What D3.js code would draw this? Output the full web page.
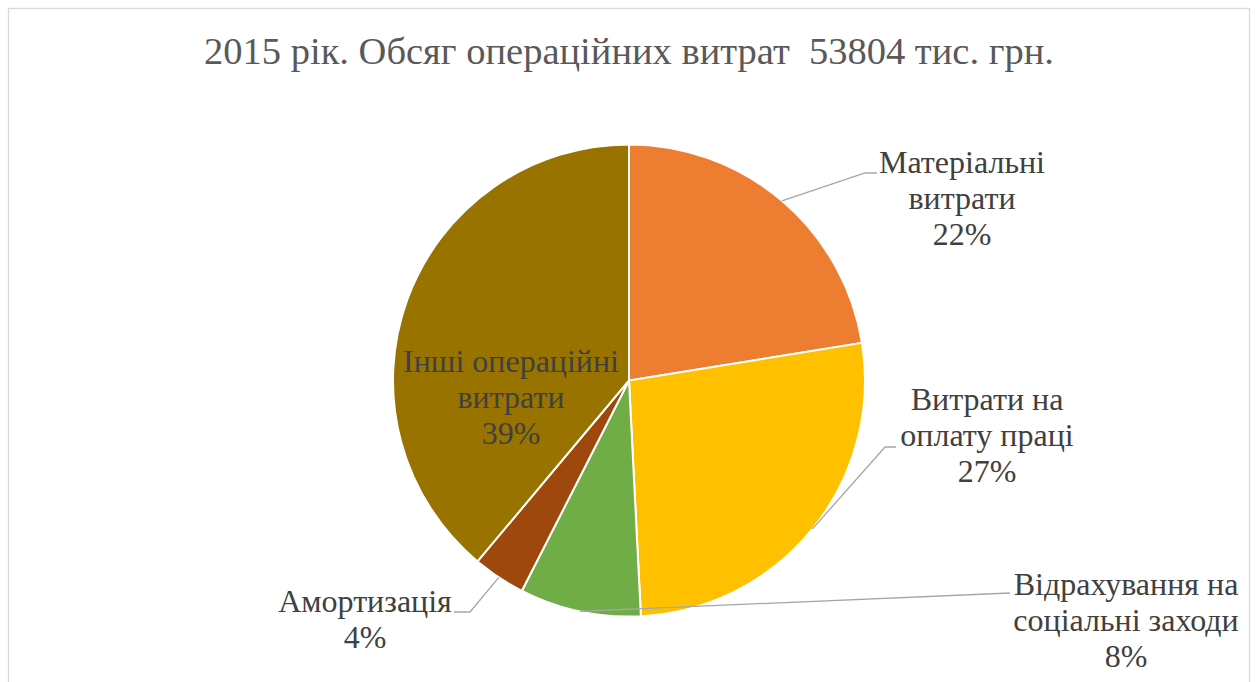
<!DOCTYPE html>
<html>
<head>
<meta charset="utf-8">
<script src="https://cdn.jsdelivr.net/npm/d3@7"></script>
<style>
  body { margin: 0; background: #fff; }
  svg { display: block; }
</style>
</head>
<body>
<svg id="chart" width="1256" height="682"></svg>
<script>
// data (тис. грн.)
const title = "2015 рік. Обсяг операційних витрат  53804 тис. грн.";
const categories = [
  ["Матеріальні", "витрати"],
  ["Витрати на", "оплату праці"],
  ["Відрахування на", "соціальні заходи"],
  ["Амортизація"],
  ["Інші операційні", "витрати"]
];
const values = [12080, 14390, 4466, 1937, 20931];
const colors = ["#ED7D31", "#FFC000", "#70AD47", "#9E480E", "#997300"];

// label layout: text centre, first baseline, leader elbow (null = label inside slice)
const labelPos = [
  { x: 962, y: 173, elbow: [865, 173], end: 877 },
  { x: 987, y: 410, elbow: [885, 447], end: 896 },
  { x: 1126, y: 595, elbow: [1010, 593], end: 1010 },
  { x: 365, y: 612, elbow: [470, 612], end: 454 },
  { x: 511, y: 372, elbow: null }
];

const FONT = "Liberation Serif";

const svg = d3.select("svg#chart");

//frame
svg.append("rect")
  .attr("x", 8.5).attr("y", 8.5)
  .attr("width", 1241).attr("height", 700)
  .attr("fill", "#fff").attr("stroke", "#d9d9d9").attr("stroke-width", 1.3);

//title
svg.append("text")
  .attr("x", 629).attr("y", 64)
  .attr("text-anchor", "middle")
  .style("font-family", FONT)
  .style("font-size", "38.5px")
  .style("white-space", "pre")
  .attr("fill", "#595959")
  .text(title);

const cx = 629, cy = 380.5, r = 236;
const total = d3.sum(values);

const pie = d3.pie().sort(null).value(d => d);
const arcs = pie(values);
const arc = d3.arc().innerRadius(0).outerRadius(r);

const g = svg.append("g").attr("transform", `translate(${cx}, ${cy})`);

g.selectAll("path.slice")
  .data(arcs)
  .join("path")
  .attr("class", "slice")
  .attr("d", arc)
  .attr("fill", (d, i) => colors[i])
  .attr("stroke", "#fff")
  .attr("stroke-width", 2);

//leader lines
arcs.forEach((d, i) => {
  const p = labelPos[i];
  if (!p.elbow) return;
  const a = (d.startAngle + d.endAngle) / 2;
  const sx = cx + r * Math.sin(a), sy = cy - r * Math.cos(a);
  svg.append("path")
    .attr("d", d3.line()([[sx, sy], p.elbow, [p.end, p.elbow[1]]]))
    .attr("fill", "none")
    .attr("stroke", "#a6a6a6")
    .attr("stroke-width", 1.3);
});

//labels
arcs.forEach((d, i) => {
  const p = labelPos[i];
  const lines = categories[i].concat([Math.round(d.value / total * 100) + "%"]);
  const t = svg.append("text")
    .attr("transform", `translate(${p.x}, ${p.y})`)
    .attr("text-anchor", "middle")
    .style("font-family", FONT)
    .style("font-size", "32px")
    .attr("fill", "#404040");
  lines.forEach((s, k) => {
    t.append("tspan").attr("x", 0).attr("y", k * 35.8).text(s);
  });
});
</script>
</body>
</html>
